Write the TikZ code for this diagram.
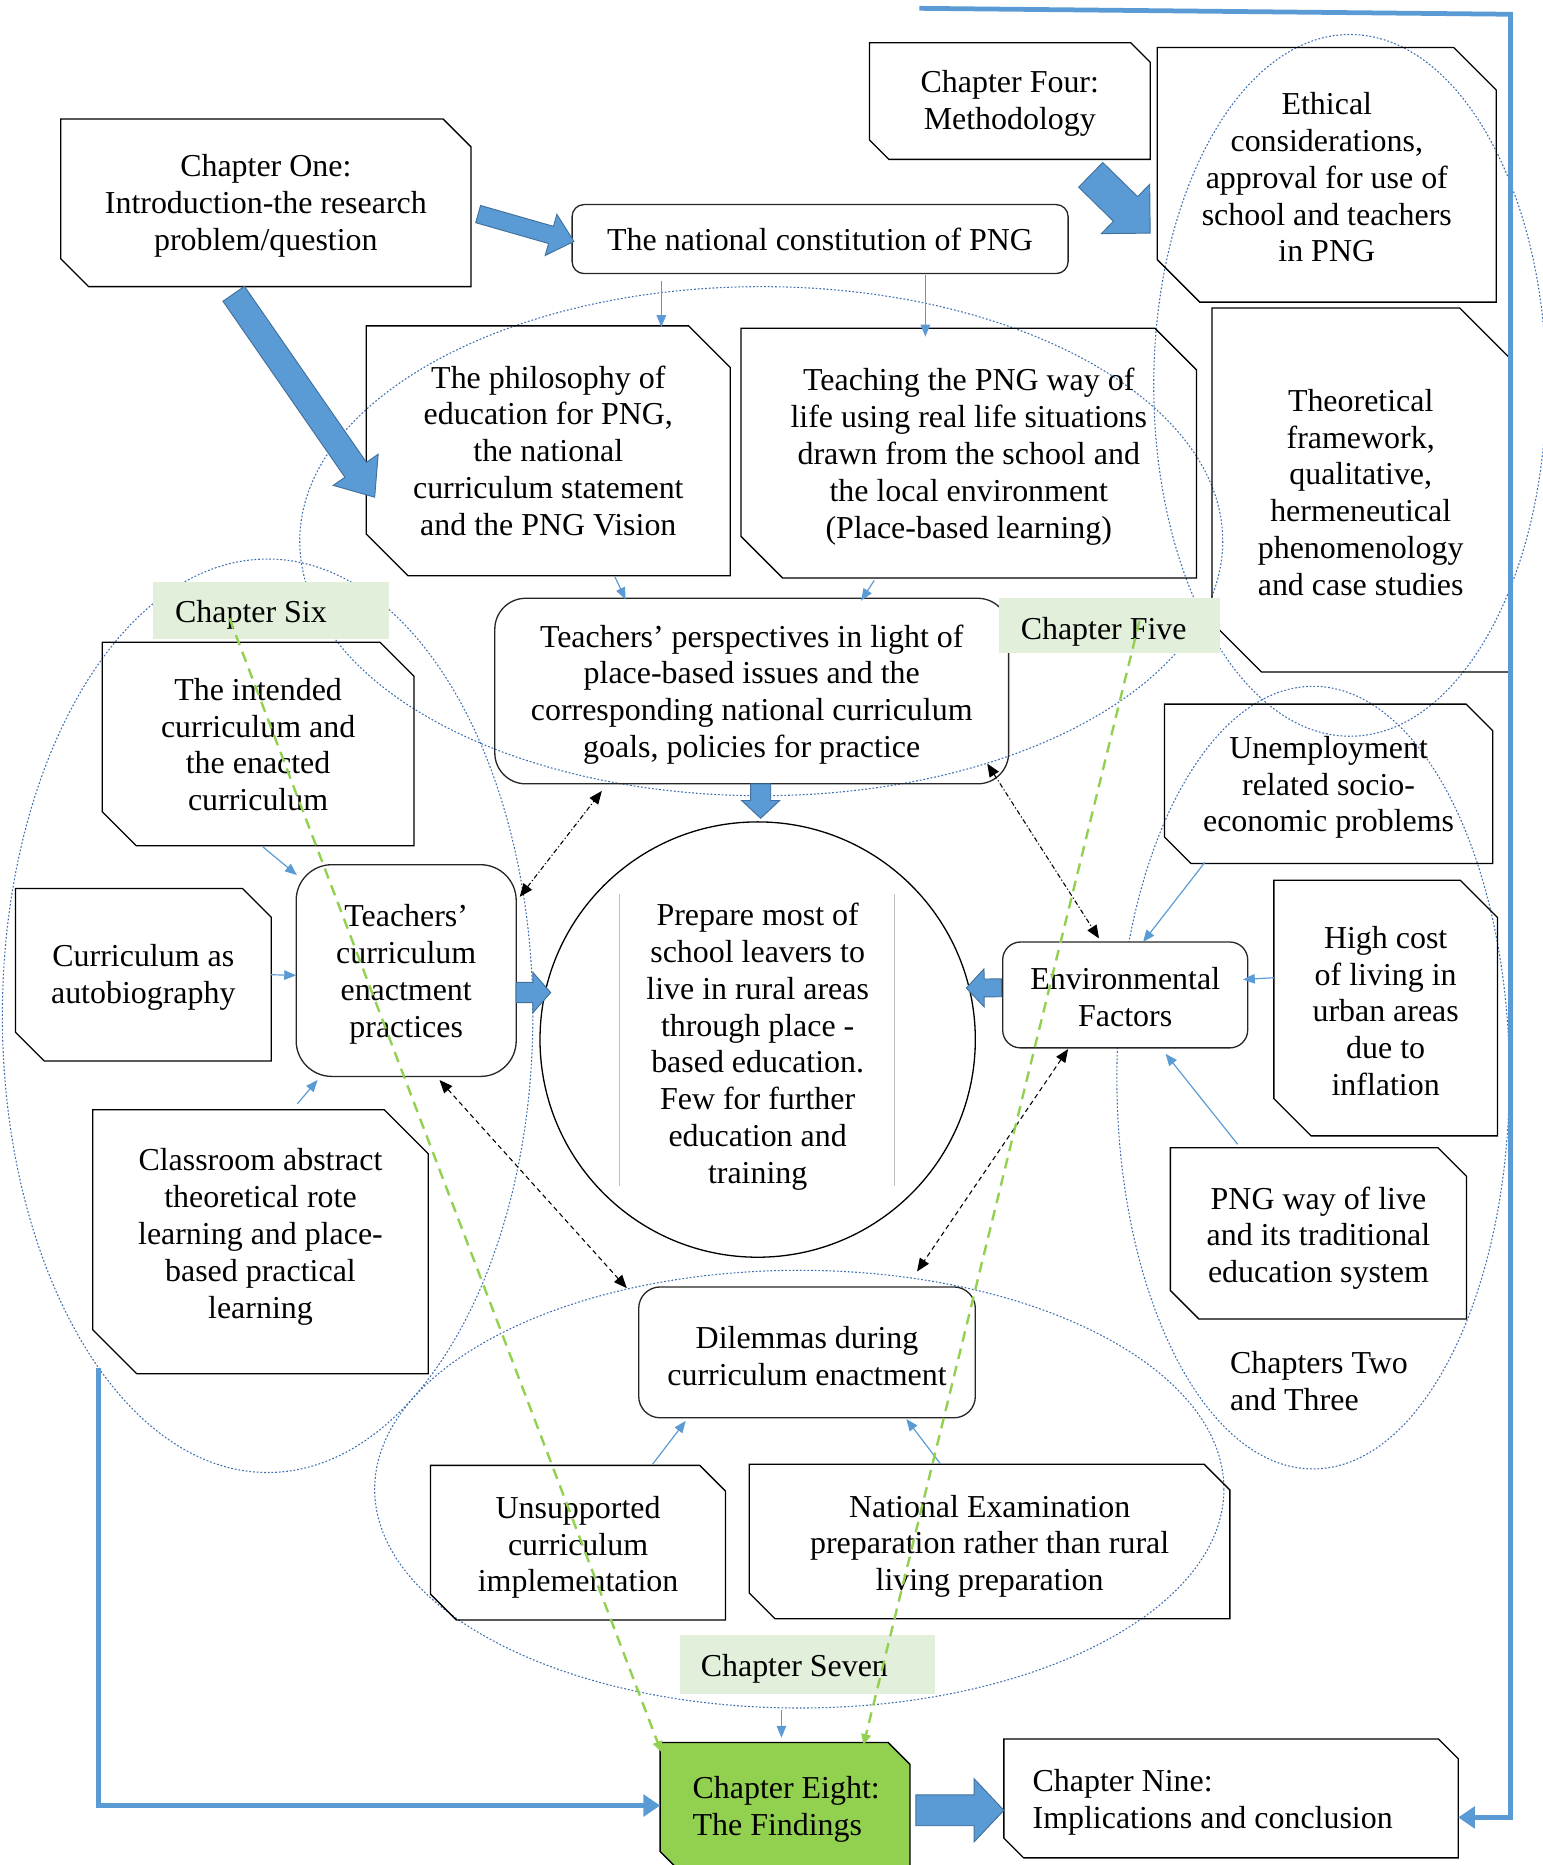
\documentclass[tikz,border=0pt]{standalone}
\usepackage{fontspec}
\setmainfont{Liberation Serif}
\usetikzlibrary{calc,arrows.meta}

\definecolor{wblue}{HTML}{5B9BD5}
\definecolor{wblued}{HTML}{41719C}
\definecolor{ovalc}{HTML}{3F6FB0}
\definecolor{lgreen}{HTML}{E2EFDA}
\definecolor{ggreen}{HTML}{92D050}

\tikzset{
  shapebox/.style={rectangle, inner sep=0pt, outer sep=0pt},
  boxline/.style={draw=black, line width=1.1pt, line join=miter},
  rbox/.style={rectangle, draw=black!85, line width=1.1pt, inner sep=0pt, outer sep=0pt},
  chaplabel/.style={rectangle, fill=lgreen, inner sep=0pt, outer sep=0pt},
  txt/.style={font=\fontsize{26.85}{31}\selectfont, align=center, inner sep=0pt},
  oval/.style={draw=ovalc, line width=0.9pt, dash pattern=on 1.5pt off 1.6pt},
  thinarrow/.style={draw=wblue, line width=1pt, -{Triangle[length=10pt,width=8pt]}, fill=none},
  linkdd/.style={draw=black, line width=0.9pt, dash pattern=on 4pt off 2pt on 1pt off 2pt,
    {Triangle[length=11pt,width=9pt]}-{Triangle[length=11pt,width=9pt]}},
  linkd/.style={draw=black, line width=0.9pt, dash pattern=on 4pt off 3pt,
    {Triangle[length=11pt,width=9pt]}-{Triangle[length=11pt,width=9pt]}},
  greenlink/.style={draw=ggreen, line width=2pt, dash pattern=on 9pt off 6pt,
    -{Triangle[length=9pt,width=8pt]}},
  blockfill/.style={fill=wblue, draw=wblued, line width=0.8pt, line join=miter},
  frameline/.style={draw=wblue, line width=4pt, line join=miter,
    -{Triangle[length=14pt,width=18pt]}},
}

% box with the top-right and bottom-left corners snipped off
\newcommand\snipbox[6][]{%
  \pgfmathsetmacro\snw{#5-#3}%
  \pgfmathsetmacro\snh{#6-#4}%
  \pgfmathsetmacro\snc{min(\snw,\snh)/6}%
  \node[shapebox, minimum width=\snw pt, minimum height=\snh pt] (#2) at ({(#3+#5)/2},{(#4+#6)/2}) {};
  \draw[boxline,#1] (#2.north west) -- ([xshift=-\snc pt]#2.north east)
    -- ([yshift=-\snc pt]#2.north east) -- (#2.south east)
    -- ([xshift=\snc pt]#2.south west) -- ([yshift=\snc pt]#2.south west) -- cycle;
}

% wide block arrow: name, start, tip, half shaft, half head, head length
\newcommand\blockarrow[6]{%
  \coordinate (#1s) at #2;
  \coordinate (#1t) at #3;
  \coordinate (#1b) at ($(#1t)!#6pt!(#1s)$);
  \draw[blockfill] ($(#1s)!#4pt!90:(#1t)$) -- ($(#1b)!#4pt!90:(#1t)$)
    -- ($(#1b)!#5pt!90:(#1t)$) -- (#1t) -- ($(#1b)!#5pt!-90:(#1t)$)
    -- ($(#1b)!#4pt!-90:(#1t)$) -- ($(#1s)!#4pt!-90:(#1t)$) -- cycle;
}

\begin{document}
\begin{tikzpicture}[x=1pt, y=-1pt]
\useasboundingbox (0,0) rectangle (1297,1568);

% chapter groupings
\draw[oval] (640,455) ellipse [x radius=388, y radius=214];
\draw[oval] (1135,324) ellipse [x radius=165, y radius=295];
\draw[oval] (1104,906) ellipse [x radius=165, y radius=329];
\draw[oval] (225,854) ellipse [x radius=223, y radius=384];
\draw[oval] (672,1252) ellipse [x radius=357, y radius=184];

% rounded boxes and the central circle
\node[rbox, minimum width=417pt, minimum height=58pt, rounded corners=10pt] (nat) at (689.5,201) {};
\node[rbox, minimum width=432pt, minimum height=156pt, rounded corners=26pt] (persp) at (632,581) {};
\node[rbox, minimum width=185pt, minimum height=178pt, rounded corners=30pt] (enact) at (341.5,816) {};
\node[rbox, fill=white, minimum width=206pt, minimum height=89pt, rounded corners=15pt] (env) at (946,836.5) {};
\node[rbox, minimum width=283pt, minimum height=110pt, rounded corners=18pt] (dil) at (678.5,1137) {};
\node[circle, draw=black, line width=1.1pt, fill=white, minimum size=366pt, inner sep=0pt, outer sep=0pt] (circ) at (637,874) {};
\draw[black!25, line width=0.6pt] ($(circ.center)+(-116,-122)$) -- ($(circ.center)+(-116,123)$);
\draw[black!25, line width=0.6pt] ($(circ.center)+(115,-122)$) -- ($(circ.center)+(115,123)$);

% snipped boxes
\snipbox{ch1}{51}{100}{396}{241}
\snipbox{ch4}{731}{36}{967}{134}
\snipbox{eth}{973}{40}{1258}{254}
\snipbox{theo}{1019}{259}{1269}{565}
\snipbox{phil}{308}{274}{614}{484}
\snipbox{teach}{623}{276}{1006}{486}
\snipbox{intend}{86}{540}{348}{711}
\snipbox{auto}{13}{747}{228}{892}
\snipbox{class}{78}{933}{360}{1155}
\snipbox{unemp}{979}{592}{1255}{726}
\snipbox{cost}{1071}{740}{1259}{955}
\snipbox{png}{984}{965}{1233}{1109}
\snipbox{unsup}{362}{1232}{610}{1362}
\snipbox{exam}{630}{1231}{1034}{1361}
\snipbox[fill=ggreen]{ch8}{555}{1465}{765}{1575}
\snipbox{ch9}{844}{1462}{1226}{1562}

% chapter labels
\node[chaplabel, minimum width=198pt, minimum height=48pt] (lab6) at (228,513) {};
\node[chaplabel, minimum width=186pt, minimum height=46pt] (lab5) at (933,526) {};
\node[chaplabel, minimum width=214pt, minimum height=49pt] (lab7) at (679,1399.5) {};

% texts
\node[txt] (ch1t) at (223.5,173) {Chapter One:\\Introduction-the research\\problem/question};
\node[txt] (natt) at (689.5,201) {The national constitution of PNG};
\node[txt] (ch4t) at (849,87) {Chapter Four:\\Methodology};
\node[txt] (etht) at (1115.5,149) {Ethical\\considerations,\\approval for use of\\school and teachers\\in PNG};
\node[txt] (theot) at (1144,414) {Theoretical\\framework,\\qualitative,\\hermeneutical\\phenomenology\\and case studies};
\node[txt] (philt) at (461,379) {The philosophy of\\education for PNG,\\the national\\curriculum statement\\and the PNG Vision};
\node[txt] (teacht) at (814.5,384) {Teaching the PNG way of\\life using real life situations\\drawn from the school and\\the local environment\\(Place-based learning)};
\node[txt] (perspt) at (632,584) {Teachers’ perspectives in light of\\place-based issues and the\\corresponding national curriculum\\goals, policies for practice};
\node[txt] (circt) at (637,880) {Prepare most of\\school leavers to\\live in rural areas\\through place -\\based education.\\Few for further\\education and\\training};
\node[txt] (enactt) at (341.5,819) {Teachers’\\curriculum\\enactment\\practices};
\node[txt] (intendt) at (217,626) {The intended\\curriculum and\\the enacted\\curriculum};
\node[txt] (autot) at (120.5,822) {Curriculum as\\autobiography};
\node[txt] (classt) at (219,1040) {Classroom abstract\\theoretical rote\\learning and place-\\based practical\\learning};
\node[txt] (envt) at (946,838) {Environmental\\Factors};
\node[txt] (unempt) at (1117,662) {Unemployment\\related socio-\\economic problems};
\node[txt] (costt) at (1165,850) {High cost\\of living in\\urban areas\\due to\\inflation};
\node[txt] (pngt) at (1108.5,1041) {PNG way of live\\and its traditional\\education system};
\node[txt, align=left, anchor=west] (ch23t) at (1034,1161) {Chapters Two\\and Three};
\node[txt] (dilt) at (678.5,1140) {Dilemmas during\\curriculum enactment};
\node[txt] (unsupt) at (486,1301) {Unsupported\\curriculum\\implementation};
\node[txt] (examt) at (832,1300) {National Examination\\preparation rather than rural\\living preparation};
\node[txt, align=left] (ch8t) at (661,1521) {Chapter Eight:\\The Findings};
\node[txt, align=left, anchor=west] (ch9t) at (868,1515) {Chapter Nine:\\Implications and conclusion};
\node[txt, anchor=west] (lab6t) at (147,517) {Chapter Six};
\node[txt, anchor=west] (lab5t) at (858,531) {Chapter Five};
\node[txt, anchor=west] (lab7t) at (589,1403) {Chapter Seven};

% thin connectors
\draw[thinarrow] ($(nat.south)+(-133.5,6)$) -- ($(phil.north)+(95,1)$);
\draw[thinarrow] ($(nat.south)+(88.5,1)$) -- ($(teach.north)+(-36.5,7)$);
\draw[thinarrow] ($(phil.south)+(56,1)$) -- ($(persp.north)+(-106,1)$);
\draw[thinarrow] ($(teach.south)+(-79.5,2)$) -- ($(persp.north)+(92,2)$);
\draw[thinarrow] ($(intend.south)+(4,1)$) -- ($(enact.north west)+(0.6,8.7)$);
\draw[thinarrow] (auto.east) -- ($(enact.west)+(0,4)$);
\draw[thinarrow] ($(class.north)+(31,-5)$) -- ($(enact.south west)+(18,3)$);
\draw[thinarrow] ($(unemp.south)+(-104,-1)$) -- ($(env.north)+(15,0)$);
\draw[thinarrow] ($(cost.west)+(0,-25.5)$) -- ($(env.east)+(-4,-13)$);
\draw[thinarrow] ($(png.north)+(-68,-3)$) -- ($(env.south)+(34,5)$);
\draw[thinarrow] ($(unsup.north)+(62.7,-1)$) -- ($(dil.south)+(-102,2.6)$);
\draw[thinarrow] ($(exam.north)+(-41.4,-0.4)$) -- ($(dil.south)+(83.5,1)$);
\draw[thinarrow] ($(lab7.south)+(-22,14)$) -- ($(ch8.north)+(-3,-4)$);

% two-way links around the circle
\draw[linkdd] ($(enact.north east)+(3,27)$) -- ($(persp.south west)+(90,6)$);
\draw[linkd] ($(enact.south)+(28,3)$) -- ($(dil.north west)+(-10,1)$);
\draw[linkdd] ($(persp.south east)+(-18,-17)$) -- ($(env.north)+(-22,-3)$);
\draw[linkd] ($(env.south west)+(55,1)$) -- ($(dil.north east)+(-49,-13)$);

% block arrows
\blockarrow{ba}{($(ch1.east)+(6,9.5)$)}{($(nat.west)+(1.5,2)$)}{7.5}{18}{20}
\blockarrow{bb}{($(ch1.south)+(-27,6)$)}{($(phil.west)+(7,39)$)}{11}{23}{28}
\blockarrow{bc}{($(ch4.south east)+(-50,13)$)}{($(eth.west)+(-6,49)$)}{14.5}{29}{29}
\blockarrow{bd}{($(persp.south)+(7.5,0)$)}{($(circ.north)+(2.5,-3)$)}{8.5}{16}{15}
\blockarrow{be}{($(enact.east)+(0,18.5)$)}{($(circ.west)+(9,-39.5)$)}{8.5}{17}{15}
\blockarrow{bf}{($(env.west)+(-1,-6)$)}{($(circ.east)+(-7.6,-43.3)$)}{7.5}{16}{15}
\blockarrow{bg}{($(ch8.east)+(5,2)$)}{($(ch9.west)+(0,10)$)}{13}{26.5}{25}

% outer frame lines
\draw[frameline] ($(class.south west)+(5,-5)$) |- ($(ch8.west)+(0,-2)$);
\coordinate (fc) at (1270,12);
\draw[frameline] ($(ch4.north west)+(42,-29)$) -- (fc) |- ($(ch9.east)+(0,16)$);

% chapter links into the findings
\draw[greenlink] ($(lab6.west)+(64,7)$) -- ($(ch8.north west)+(1,8)$);
\draw[greenlink] ($(lab5.north)+(25,19)$) -- ($(ch8.north east)+(-39,2)$);
\end{tikzpicture}
\end{document}
